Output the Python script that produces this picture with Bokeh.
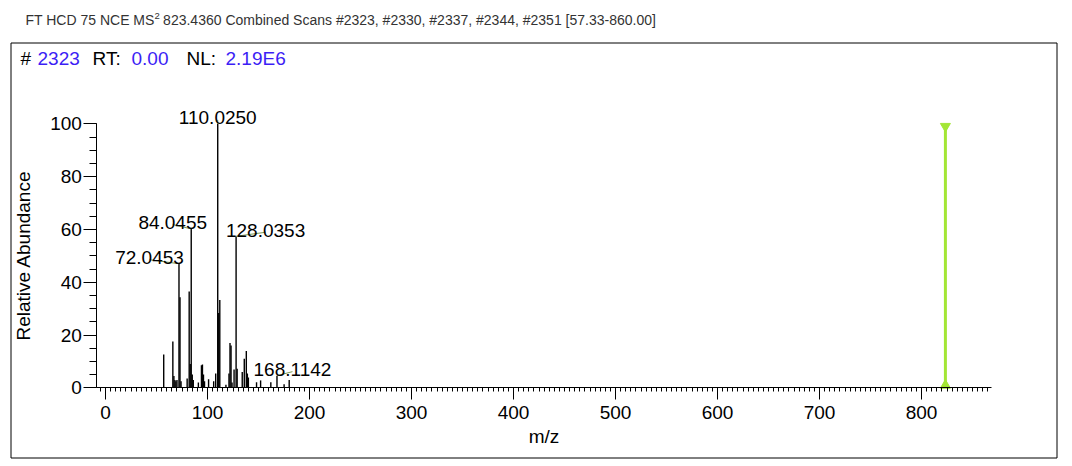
from bokeh.plotting import figure
from bokeh.models import Range1d, FixedTicker, Label, BoxAnnotation, ColumnDataSource
from bokeh.core.properties import value
from bokeh.embed import file_html
from bokeh.resources import INLINE

# ---- data -------------------------------------------------------------
peak_mz = [57.07, 66.03, 67.05, 68.03, 69.03, 70.07, 72.0453, 73.03, 74.05,
           80.05, 82.04, 83.05, 84.0455, 85.05, 86.06, 91.05, 94.07, 95.05,
           96.06, 97.07, 101.06, 106.05, 108.04, 110.0250, 111.03, 112.05,
           118.07, 121.06, 122.06, 123.07, 124.05, 126.05, 128.0353, 129.06,
           134.06, 136.06, 138.05, 139.07, 140.07, 148.08, 152.07, 162.09,
           168.1142, 175.10, 180.10]
peak_int = [12.6, 17.5, 4.5, 3.0, 2.5, 3.0, 47.0, 34.3, 2.5,
            3.5, 36.5, 9.0, 60.2, 5.0, 3.0, 2.0, 8.5, 8.8,
            5.0, 2.5, 3.2, 2.5, 5.4, 100.0, 28.3, 33.3,
            1.2, 5.4, 17.0, 16.0, 2.0, 6.9, 57.4, 7.2,
            6.0, 11.0, 13.9, 5.4, 3.9, 2.1, 2.8, 2.1,
            4.6, 1.3, 3.0]

label_mz = [72.0453, 84.0455, 110.0250, 128.0353, 168.1142]
label_int = [47.0, 60.2, 100.0, 57.4, 4.6]
label_text = ["72.0453", "84.0455", "110.0250", "128.0353", "168.1142"]
# label anchor offsets from the peak top, in screen pixels (style)
label_dx = [-29.5, -18.5, 0.0, 29.5, 15.5]
label_dy = [4.0, 4.3, 4.0, 4.0, 4.0]

precursor_mz = 823.4360
precursor_int = [0, 100]

x_ticks = [0, 100, 200, 300, 400, 500, 600, 700, 800]
y_ticks = [0, 20, 40, 60, 80, 100]
x_axis_span = (-8.5, 868.6)
y_axis_span = (0, 100)

title_main = "FT HCD 75 NCE MS"
title_sup = "2"
title_rest = "823.4360 Combined Scans #2323, #2330, #2337, #2344, #2351 [57.33-860.00]"
header = [("#", "black"), ("2323", "#3c1ef5"), ("RT:", "black"),
          ("0.00", "#3c1ef5"), ("NL:", "black"), ("2.19E6", "#3c1ef5")]
header_px = [20, 37, 92, 131, 186, 225]

# ---- layout: the frame fills the whole canvas ---------------------------
FONT = "Liberation Sans"
FS = "19px"
W, H = 1064, 462
X0_PX, SX = 105.0, 1.02     # pixel of m/z 0, px per m/z unit
Y0_PX, SY = 387.3, 2.64     # pixel of 0 %, px per % unit

x_range = Range1d((0 - X0_PX) / SX, (W - X0_PX) / SX)
y_range = Range1d((Y0_PX - H) / SY, Y0_PX / SY)


def sxp(px):   # canvas x -> frame screen units
    return px


def syp(py):   # canvas y (top-down) -> frame screen units (bottom-up)
    return H - py


p = figure(width=W, height=H, output_backend="svg", toolbar_location=None,
           x_range=x_range, y_range=y_range,
           min_border_left=0, min_border_right=0, min_border_top=0,
           min_border_bottom=0, outline_line_color=None,
           background_fill_color="white", border_fill_color="white")
p.grid.visible = False

# axes, pinned at data locations
xa = p.xaxis[0]
xa.fixed_location = 0
xa.bounds = x_axis_span
xa.ticker = FixedTicker(ticks=x_ticks, minor_ticks=list(range(-5, 870, 5)))
xa.major_tick_out = 12
xa.major_tick_in = 0
xa.minor_tick_out = 4
xa.minor_tick_in = 0
xa.major_label_standoff = 6
xa.axis_label = "m/z"
xa.axis_label_standoff = 4

ya = p.yaxis[0]
ya.fixed_location = x_axis_span[0]
ya.bounds = y_axis_span
ya.ticker = FixedTicker(ticks=y_ticks, minor_ticks=list(range(0, 101, 5)))
ya.major_tick_out = 13
ya.major_tick_in = 0
ya.minor_tick_out = 7
ya.minor_tick_in = 0
ya.major_label_standoff = 2
ya.axis_label = "Relative Abundance"
ya.axis_label_standoff = 13

for ax in (xa, ya):
    ax.axis_line_color = "black"
    ax.major_tick_line_color = "black"
    ax.minor_tick_line_color = "black"
    ax.major_label_text_font = FONT
    ax.major_label_text_font_size = FS
    ax.major_label_text_color = "black"
    ax.axis_label_text_font = FONT
    ax.axis_label_text_font_size = FS
    ax.axis_label_text_font_style = "normal"
    ax.axis_label_text_color = "black"

# peaks
p.segment(x0=peak_mz, y0=[0] * len(peak_mz), x1=peak_mz, y1=peak_int,
          line_color="black", line_width=1.4)

# labels with leader lines
lx = [m + dx / SX for m, dx in zip(label_mz, label_dx)]
ly = [i + dy / SY for i, dy in zip(label_int, label_dy)]
lsrc = ColumnDataSource(dict(mz=label_mz, inten=label_int, lx=lx, ly=ly,
                             txt=label_text))
p.segment(x0="mz", y0="inten", x1="lx", y1="ly", source=lsrc,
          line_color="#7d9a55", line_width=1)
p.text(x="lx", y="ly", text="txt", source=lsrc, y_offset=-2,
       text_align="center", text_baseline="alphabetic",
       text_font=value(FONT), text_font_size=FS, text_color="black")

# precursor marker
p.segment(x0=[precursor_mz], y0=[precursor_int[0]], x1=[precursor_mz],
          y1=[precursor_int[1]], line_color="#a3e635", line_width=3)
half = 2.5 / SY
p.scatter(x=[precursor_mz], y=[precursor_int[1] - half],
          marker="inverted_triangle", size=10, color="#a3e635")
p.scatter(x=[precursor_mz], y=[precursor_int[0] + half],
          marker="triangle", size=10, color="#a3e635")

# outer box (half-pixel positions for a crisp 1px line)
p.add_layout(BoxAnnotation(left=sxp(10.5), right=sxp(1056.5), top=syp(42.5),
                           bottom=syp(457.5),
                           left_units="screen", right_units="screen",
                           top_units="screen", bottom_units="screen",
                           fill_alpha=0, line_color="black", line_alpha=1.0,
                           line_width=1))

# header inside the box
for (txt, col), hx in zip(header, header_px):
    p.add_layout(Label(x=sxp(hx), y=syp(58), x_units="screen", y_units="screen",
                       text=txt, text_color=col, text_font=FONT,
                       text_font_size=FS, text_baseline="middle"))

# title above the box
TFS = 14
p.add_layout(Label(x=sxp(25), y=syp(19), x_units="screen", y_units="screen",
                   text=title_main, text_color="#333333", text_font=FONT,
                   text_font_size=f"{TFS}px", text_baseline="middle"))
sup_x = 25 + 9.223 * TFS
p.add_layout(Label(x=sxp(sup_x), y=syp(15), x_units="screen", y_units="screen",
                   text=title_sup, text_color="#333333", text_font=FONT,
                   text_font_size="9.5px", text_baseline="middle"))
p.add_layout(Label(x=sxp(sup_x + 8.5), y=syp(19), x_units="screen", y_units="screen",
                   text=title_rest, text_color="#333333", text_font=FONT,
                   text_font_size=f"{TFS}px", text_baseline="middle"))

open("out.html", "w").write(file_html(p, INLINE))
